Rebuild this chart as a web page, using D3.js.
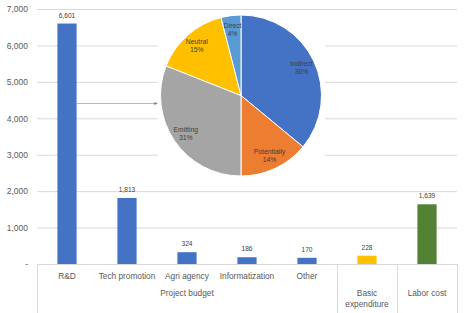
<!DOCTYPE html>
<html>
<head>
<meta charset="utf-8">
<script src="https://cdn.jsdelivr.net/npm/d3@7"></script>
<style>
  body { margin: 0; background: #fff; }
  text { font-family: "Liberation Sans", Arial, sans-serif; }
</style>
</head>
<body>
<div id="chart"></div>
<script>
// bar data
var categories = ["R&D", "Tech promotion", "Agri agency", "Informatization", "Other", "Basic expenditure", "Labor cost"];
var values = [6601, 1813, 324, 186, 170, 228, 1639];
var barColors = ["#4472C4", "#4472C4", "#4472C4", "#4472C4", "#4472C4", "#FFC000", "#548235"];
// first-level labels (empty for the last two, they only have a group label)
var subLabels = ["R&D", "Tech promotion", "Agri agency", "Informatization", "Other", "", ""];
var groups = [
    {name: ["Project budget"], from: 0, to: 4},
    {name: ["Basic", "expenditure"], from: 5, to: 5},
    {name: ["Labor cost"], from: 6, to: 6}
];
var yTicks = [0, 1000, 2000, 3000, 4000, 5000, 6000, 7000];

// pie data (breakdown of R&D)
var pieLabels = ["Indirect", "Potentially", "Emitting", "Neutral", "Direct"];
var pieValues = [36, 14, 31, 15, 4];
var pieColors = ["#4472C4", "#ED7D31", "#A5A5A5", "#FFC000", "#5B9BD5"];

var W = 467, H = 313;
var margin = {left: 37, right: 10, top: 9, bottom: 49};

var svg = d3.select("#chart").append("svg")
    .attr("width", W)
    .attr("height", H);

var x = d3.scaleBand()
    .domain(categories)
    .range([margin.left, W - margin.right])
    .paddingInner(0.68)
    .paddingOuter(0.34);

var y = d3.scaleLinear()
    .domain([0, 7000])
    .range([H - margin.bottom, margin.top]);

var fmt = d3.format(",");

// gridlines
svg.append("g")
    .selectAll("line")
    .data(yTicks.slice(1))
    .enter().append("line")
    .attr("x1", margin.left)
    .attr("x2", W - margin.right)
    .attr("y1", function(d){ return y(d) + 0.5 })
    .attr("y2", function(d){ return y(d) + 0.5 })
    .attr("stroke", "#d9d9d9")
    .attr("stroke-width", 1);

// y axis labels
var yAxis = d3.axisLeft(y)
    .tickValues(yTicks)
    .tickSize(0)
    .tickPadding(9)
    .tickFormat(function(d){ return d == 0 ? "-" : fmt(d) });

svg.append("g")
    .attr("transform", "translate(" + margin.left + ",0)")
    .call(yAxis)
    .call(function(g){ g.select(".domain").remove() })
    .selectAll("text")
    .attr("fill", "#595959")
    .style("font-size", "8.5px");

// bars
svg.append("g")
    .selectAll("rect")
    .data(values)
    .enter().append("rect")
    .attr("x", function(d, i){ return x(categories[i]) })
    .attr("y", function(d){ return y(d) })
    .attr("width", x.bandwidth())
    .attr("height", function(d){ return y(0) - y(d) })
    .attr("fill", function(d, i){ return barColors[i] });

// data labels
svg.append("g")
    .selectAll("text")
    .data(values)
    .enter().append("text")
    .attr("x", function(d, i){ return x(categories[i]) + x.bandwidth() / 2 })
    .attr("y", function(d){ return y(d) - 6 })
    .attr("text-anchor", "middle")
    .attr("fill", "#404040")
    .style("font-size", "6.6px")
    .text(function(d){ return fmt(d) });

// category axis: baseline + group separators
var base = y(0);
svg.append("line")
    .attr("x1", margin.left).attr("x2", W - margin.right)
    .attr("y1", base + 0.5).attr("y2", base + 0.5)
    .attr("stroke", "#d9d9d9");

var step = x.step();
var seps = [0, 5, 6, 7];
svg.append("g")
    .selectAll("line")
    .data(seps)
    .enter().append("line")
    .attr("x1", function(d){ return Math.round(margin.left + d * step) + 0.5 })
    .attr("x2", function(d){ return Math.round(margin.left + d * step) + 0.5 })
    .attr("y1", base)
    .attr("y2", H)
    .attr("stroke", "#d9d9d9");

svg.append("g")
    .selectAll("text")
    .data(subLabels)
    .enter().append("text")
    .attr("x", function(d, i){ return x(categories[i]) + x.bandwidth() / 2 })
    .attr("y", base + 15)
    .attr("text-anchor", "middle")
    .attr("fill", "#595959")
    .style("font-size", "8.3px")
    .text(function(d){ return d });

var gl = svg.append("g")
    .selectAll("text")
    .data(groups)
    .enter().append("text")
    .attr("text-anchor", "middle")
    .attr("fill", "#595959")
    .style("font-size", "8.3px")
    .attr("x", function(d){
        return (x(categories[d.from]) + x(categories[d.to]) + x.bandwidth()) / 2
    })
    .attr("y", base + 32);

gl.selectAll("tspan")
    .data(function(d){ return d.name })
    .enter().append("tspan")
    .attr("x", function(){ return d3.select(this.parentNode).attr("x") })
    .attr("dy", function(d, i){ return i == 0 ? 0 : 10.5 })
    .text(function(d){ return d });

// pie inset box
var box = {x: 157.5, y: 11, w: 167.5, h: 168};
svg.append("rect")
    .attr("x", box.x).attr("y", box.y)
    .attr("width", box.w).attr("height", box.h)
    .attr("fill", "#fff");

// arrow from R&D bar to the pie
svg.append("defs").append("marker")
    .attr("id", "arrow")
    .attr("viewBox", "0 0 10 10")
    .attr("refX", 10).attr("refY", 5)
    .attr("markerWidth", 4).attr("markerHeight", 4)
    .attr("orient", "auto")
    .append("path")
    .attr("d", "M0,0L10,5L0,10Z")
    .attr("fill", "#808080");

var ay = Math.round(y(4420)) + 0.5;
svg.append("line")
    .attr("x1", x("R&D") + x.bandwidth())
    .attr("x2", box.x)
    .attr("y1", ay).attr("y2", ay)
    .attr("stroke", "#a6a6a6")
    .attr("stroke-width", 0.8)
    .attr("marker-end", "url(#arrow)");

// pie
var cx = 241, cy = 95.5, r = 80.5;
var pie = d3.pie().sort(null).value(function(d){ return d });
var arcs = pie(pieValues);
var arc = d3.arc().innerRadius(0).outerRadius(r);
var labelArc = d3.arc().innerRadius(r * 0.83).outerRadius(r * 0.83);

var pg = svg.append("g").attr("transform", "translate(" + cx + "," + cy + ")");

pg.selectAll("path")
    .data(arcs)
    .enter().append("path")
    .attr("d", arc)
    .attr("fill", function(d, i){ return pieColors[i] })
    .attr("stroke", "#fff")
    .attr("stroke-width", 1);

var pl = pg.selectAll("text")
    .data(arcs)
    .enter().append("text")
    .attr("text-anchor", "middle")
    .attr("fill", "#404040")
    .style("font-size", "6.8px")
    .attr("transform", function(d){
        var c = labelArc.centroid(d);
        return "translate(" + c[0] + "," + (c[1] - 1.5) + ")";
    });

pl.append("tspan")
    .attr("x", 0)
    .text(function(d, i){ return pieLabels[i] });
pl.append("tspan")
    .attr("x", 0)
    .attr("dy", 8)
    .text(function(d){ return d.data + "%" });
</script>
</body>
</html>
